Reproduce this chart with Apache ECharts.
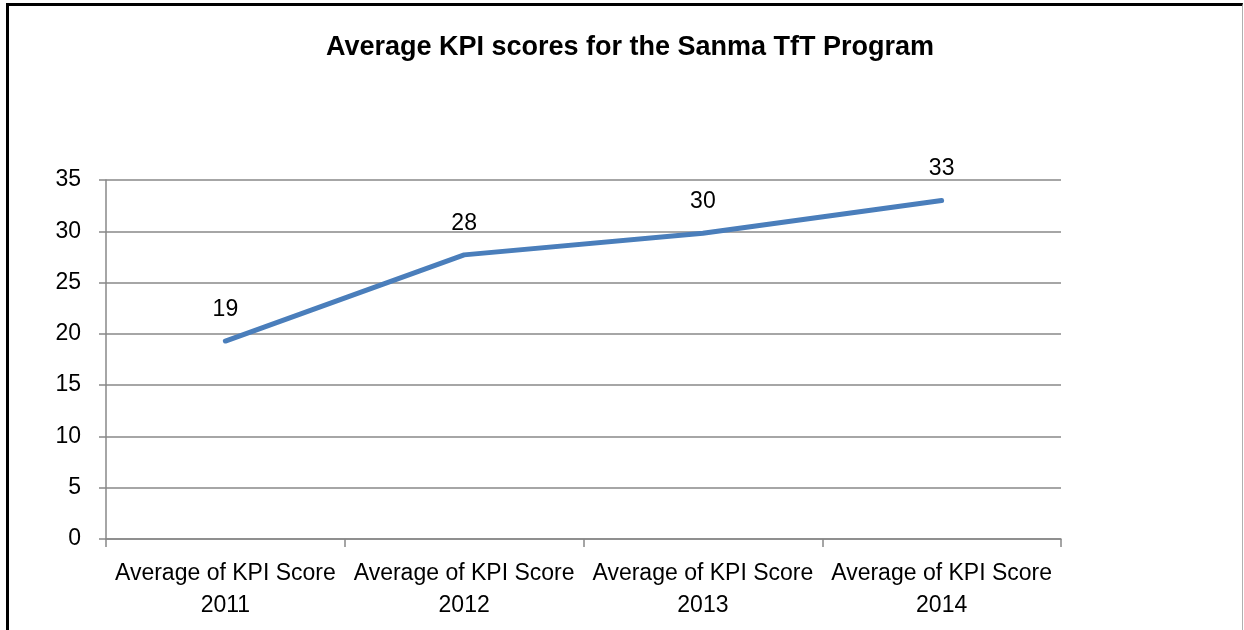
<!DOCTYPE html>
<html>
<head>
<meta charset="utf-8">
<script src="https://cdn.jsdelivr.net/npm/echarts@6/dist/echarts.min.js"></script>
<style>
html,body{margin:0;padding:0;background:#fff;}
#frame{position:absolute;left:6px;top:3px;width:1237px;height:640px;border-left:3px solid #000;border-top:3px solid #000;border-right:1px solid #b0b0b0;box-sizing:border-box;}
#chart{position:absolute;left:0;top:0;width:1244px;height:630px;}
</style>
</head>
<body>
<div id="frame"></div>
<div id="chart"></div>
<script>
var titleText = 'Average KPI scores for the Sanma TfT Program';
var categories = ['Average of KPI Score\n2011', 'Average of KPI Score\n2012', 'Average of KPI Score\n2013', 'Average of KPI Score\n2014'];
var kpiValues = [19.3, 27.7, 29.8, 33.0];
var yTicks = [0, 5, 10, 15, 20, 25, 30, 35];

var FONT = '"Liberation Sans", Arial, sans-serif';
var chart = echarts.init(document.getElementById('chart'), null, {renderer: 'canvas'});
chart.setOption({
  animation: false,
  backgroundColor: 'transparent',
  title: {
    text: titleText,
    left: 625, top: 29, textAlign: 'center',
    textStyle: {fontFamily: FONT, fontWeight: 'bold', fontSize: 27, color: '#000'}
  },
  grid: {left: 106, right: 183, top: 180, bottom: 91, containLabel: false},
  xAxis: {
    type: 'category',
    data: categories,
    boundaryGap: true,
    axisLine: {show: true, lineStyle: {color: '#888888', width: 1.5}},
    axisTick: {show: true, alignWithLabel: false, length: 8, lineStyle: {color: '#888888', width: 1.5}},
    axisLabel: {fontFamily: FONT, fontSize: 23, color: '#000', lineHeight: 32, margin: 19, interval: 0}
  },
  yAxis: {
    type: 'value',
    min: yTicks[0], max: yTicks[yTicks.length - 1], interval: 5,
    axisLine: {show: true, lineStyle: {color: '#888888', width: 1.5}},
    axisTick: {show: true, length: 7, lineStyle: {color: '#888888', width: 1.5}},
    splitLine: {show: true, lineStyle: {color: '#888888', width: 1.5}},
    axisLabel: {fontFamily: FONT, fontSize: 23, color: '#000', margin: 25, padding: [6, 0, 0, 0]}
  },
  series: [{
    type: 'line',
    data: kpiValues,
    symbol: 'circle',
    symbolSize: 2,
    showSymbol: true,
    lineStyle: {color: '#4A7EBB', width: 5, cap: 'round', join: 'round'},
    itemStyle: {color: '#4A7EBB', borderWidth: 0},
    label: {
      show: true, position: 'top', distance: 19,
      fontFamily: FONT, fontSize: 23, color: '#000',
      formatter: function (p) { return Math.round(p.value); }
    }
  }]
});
</script>
</body>
</html>
